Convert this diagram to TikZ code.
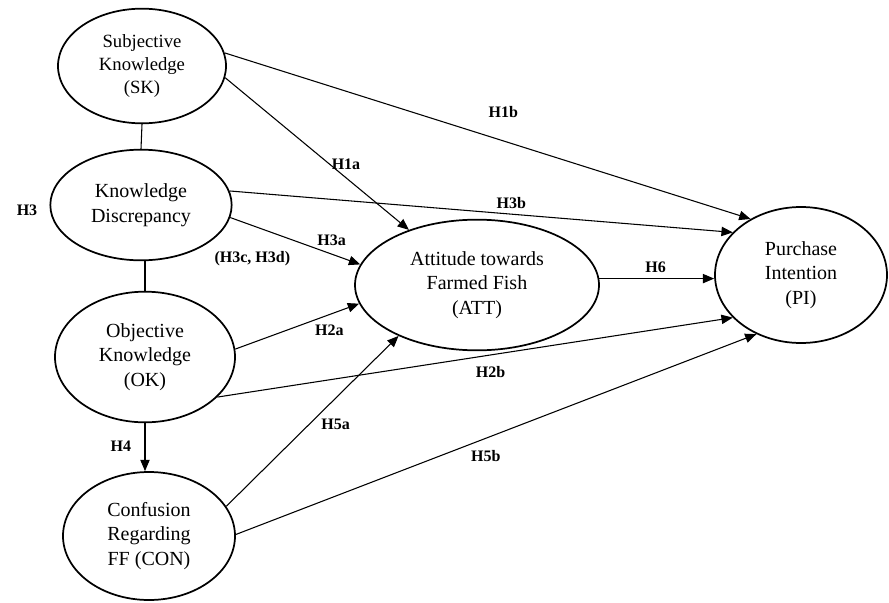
\documentclass[tikz,border=0pt]{standalone}
\usepackage{fontspec}
\setmainfont{Liberation Serif}
\usetikzlibrary{arrows.meta,shapes.geometric,positioning}

\begin{document}
\begin{tikzpicture}[x=0.75pt,y=-0.75pt,>={Triangle[length=8.5pt,width=7pt]},
	construct/.style={ellipse,draw,line width=1.3pt,inner sep=0pt,align=center,font=\fontsize{15}{18.5}\selectfont},
	hyp/.style={font=\bfseries\fontsize{12}{14}\selectfont,inner sep=1pt}]

\useasboundingbox (0,0) rectangle (889,603);

\node[construct,minimum width=126pt,minimum height=86pt,font=\fontsize{14}{17.6}\selectfont]   (SK) at (142,66)   {Subjective\\Knowledge\\(SK)};
\node[construct,minimum width=136pt,minimum height=83pt]   (KD) at (141,205)   {Knowledge\\Discrepancy};
\node[construct,minimum width=135pt,minimum height=98pt]   (OK) at (145,357)   {Objective\\Knowledge\\(OK)};
\node[construct,minimum width=129pt,minimum height=96pt]   (CON) at (149,536)  {Confusion\\Regarding\\FF (CON)};
\node[construct,minimum width=183pt,minimum height=98pt]   (ATT) at (477,285)  {Attitude towards\\Farmed Fish\\(ATT)};
\node[construct,minimum width=129pt,minimum height=102pt]  (PI) at (801,275)   {Purchase\\Intention\\(PI)};
\node[hyp]   (H3) [left=8pt of KD,yshift=-4pt]   {H3};

	\path[line width=0.8pt] (SK.south)  edge   (KD.north)
				(OK.north |- KD.south)  edge   (OK.north);

	\path[->,line width=0.8pt] (SK.-8)  edge   node[hyp,pos=.57,right]{H1a}   (ATT.141)
				(SK.9)  edge   node[hyp,pos=.53,above=16pt]{H1b}   (PI.132)
				(KD.9)  edge   node[hyp,pos=.56,above=3pt]{H3b}   (PI.148)
				(KD.-8)  edge   node[hyp,pos=.78,above=5pt]{H3a}
						node[hyp,pos=.17,below=18pt]{(H3c, H3d)}   (ATT.170)
				(ATT.3)  edge   node[hyp,pos=.49,above=3pt]{H6}   (PI.west |- ATT.3)
				(OK.5)  edge   node[hyp,pos=.76,below=6pt]{H2a}   (ATT.189)
				(OK.-29)  edge   node[hyp,pos=.53,below=7pt]{H2b}   (PI.212)
				(OK.south)  edge   node[hyp,pos=.48,left=9pt]{H4}   (OK.south |- CON.north)
				(CON.21)  edge   node[hyp,pos=.48,right=8pt]{H5a}   (ATT.213)
				(CON.1)  edge   node[hyp,pos=.48,below=8pt]{H5b}   (PI.233);

\end{tikzpicture}
\end{document}
